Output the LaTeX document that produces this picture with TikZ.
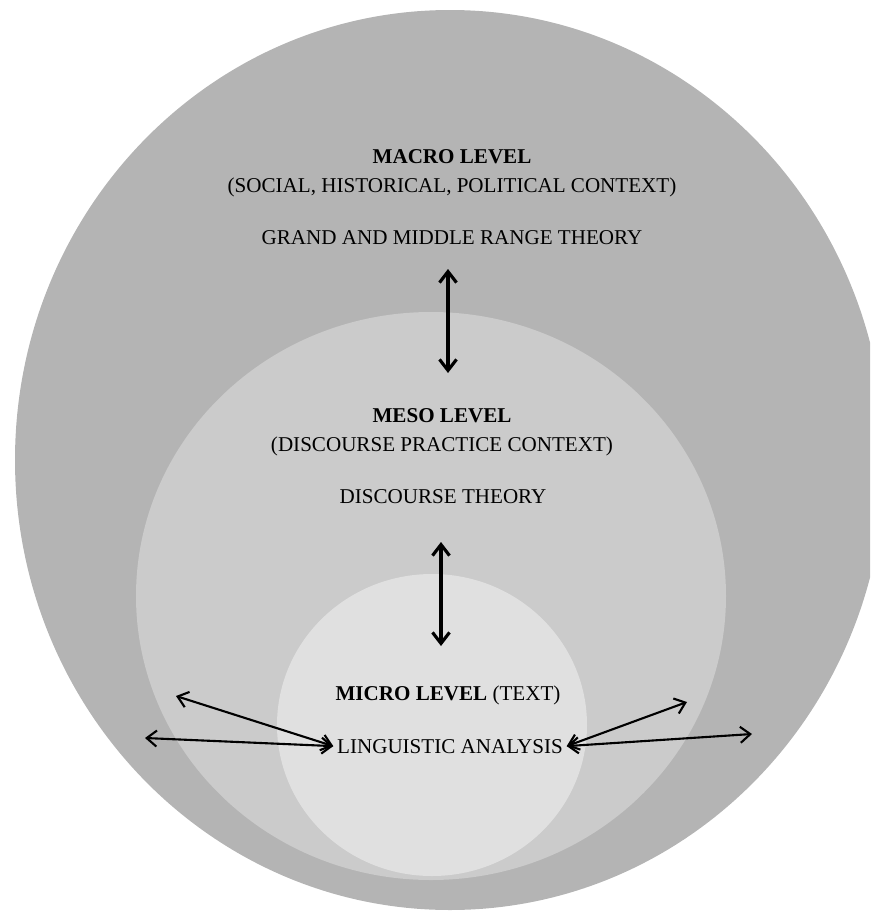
\documentclass[tikz,border=0pt]{standalone}
\usepackage{fontspec}
\setmainfont{Liberation Serif}
\usetikzlibrary{arrows.meta}

\definecolor{macrogray}{RGB}{180,180,180}
\definecolor{mesogray}{RGB}{203,203,203}
\definecolor{microgray}{RGB}{224,224,224}

\begin{document}
\begin{tikzpicture}[x=0.02cm, y=-0.02cm,
    every node/.style={font=\fontsize{12}{14}\selectfont, anchor=base, inner sep=2pt},
    levelname/.style={font=\fontsize{12}{14}\selectfont\bfseries},
    biglink/.style={{Straight Barb[length=2.2mm,width=3.4mm]}-{Straight Barb[length=2.2mm,width=3.4mm]}, line width=1.8pt},
    smalllink/.style={{Straight Barb[length=2mm,width=3.2mm]}-{Straight Barb[length=2mm,width=3.2mm]}, line width=1.2pt}]
    \useasboundingbox (0,0) rectangle (870,913);
    \clip (0,0) rectangle (870,913);

    \fill[macrogray] (450,460) ellipse [x radius=435, y radius=450];
    \fill[mesogray] (431,596) ellipse [x radius=295, y radius=284];
    \fill[microgray] (432,725) ellipse [x radius=155, y radius=151];

    \node[levelname] (macro) at (452,163) {MACRO LEVEL};
    \node (macroctx) at (452,192) {(SOCIAL, HISTORICAL, POLITICAL CONTEXT)};
    \node (macroth) at (452,244) {GRAND AND MIDDLE RANGE THEORY};

    \node[levelname] (meso) at (442,422) {MESO LEVEL};
    \node (mesoctx) at (442,451) {(DISCOURSE PRACTICE CONTEXT)};
    \node (mesoth) at (443,503) {DISCOURSE THEORY};

    \node (micro) at (448,700) {\textbf{MICRO LEVEL} (TEXT)};
    \node (ling) at (450,753) {LINGUISTIC ANALYSIS};

    \coordinate (macrolow) at (448,269);
    \coordinate (mesohigh) at (448,373);
    \coordinate (mesolow) at (441,542);
    \coordinate (microhigh) at (441,646);
    \coordinate (mesoleft) at (176,696);
    \coordinate (macroleft) at (145,738);
    \coordinate (mesoright) at (687,702);
    \coordinate (macroright) at (752,734);

    \draw[biglink] (macrolow) -- (mesohigh);
    \draw[biglink] (mesolow) -- (microhigh);
    \draw[smalllink] (mesoleft) -- (ling.west);
    \draw[smalllink] (macroleft) -- (ling.west);
    \draw[smalllink] (mesoright) -- (ling.east);
    \draw[smalllink] (macroright) -- (ling.east);
\end{tikzpicture}
\end{document}
